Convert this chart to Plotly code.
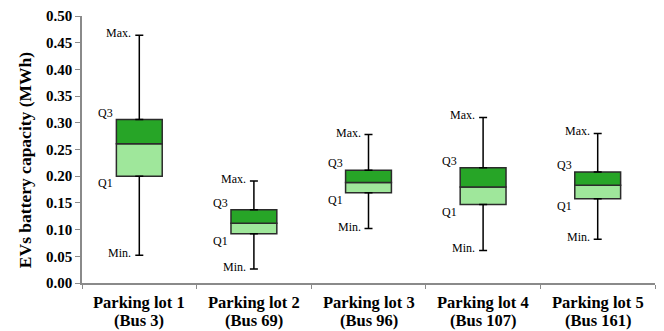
import plotly.graph_objects as go

# Battery capacity statistics per parking lot (MWh)
lots = ["Parking lot 1", "Parking lot 2", "Parking lot 3", "Parking lot 4", "Parking lot 5"]
buses = ["(Bus 3)", "(Bus 69)", "(Bus 96)", "(Bus 107)", "(Bus 161)"]
v_min = [0.052, 0.026, 0.102, 0.061, 0.082]
v_q1 = [0.200, 0.092, 0.169, 0.147, 0.158]
v_med = [0.261, 0.112, 0.188, 0.180, 0.183]
v_q3 = [0.306, 0.137, 0.211, 0.216, 0.208]
v_max = [0.464, 0.191, 0.278, 0.310, 0.280]
y_ticks = [0.00, 0.05, 0.10, 0.15, 0.20, 0.25, 0.30, 0.35, 0.40, 0.45, 0.50]

SERIF = "Liberation Serif, Times New Roman, serif"
LIGHT = "#9fe79b"
DARK = "#27a527"
EDGE = "#2b2b2b"
AXIS = "#8a8a8a"
BOX_W = 0.4

fig = go.Figure()

# lower half of box: Q1 -> median
fig.add_trace(go.Bar(
    x=lots, y=[m - q for m, q in zip(v_med, v_q1)], base=v_q1, width=BOX_W,
    marker=dict(color=LIGHT, line=dict(color=EDGE, width=1.5)),
    showlegend=False, hoverinfo="skip",
))
# upper half of box: median -> Q3
fig.add_trace(go.Bar(
    x=lots, y=[q - m for q, m in zip(v_q3, v_med)], base=v_med, width=BOX_W,
    marker=dict(color=DARK, line=dict(color=EDGE, width=1.5)),
    showlegend=False, hoverinfo="skip",
))

# upper whiskers (Q3 -> max)
fig.add_trace(go.Scatter(
    x=lots, y=v_q3, mode="markers",
    marker=dict(size=1, color="rgba(0,0,0,0)"),
    error_y=dict(type="data", symmetric=False,
                 array=[mx - q for mx, q in zip(v_max, v_q3)],
                 arrayminus=[0] * len(lots),
                 color="black", thickness=1.5, width=4),
    showlegend=False, hoverinfo="skip",
))
# lower whiskers (min -> Q1)
fig.add_trace(go.Scatter(
    x=lots, y=v_q1, mode="markers",
    marker=dict(size=1, color="rgba(0,0,0,0)"),
    error_y=dict(type="data", symmetric=False,
                 array=[0] * len(lots),
                 arrayminus=[q - mn for q, mn in zip(v_q1, v_min)],
                 color="black", thickness=1.5, width=4),
    showlegend=False, hoverinfo="skip",
))

# statistic labels beside each box
label_font = dict(family=SERIF, size=12, color="black")
for i, lot in enumerate(lots):
    for txt, val, xs, ys in (("Max.", v_max[i], -6, 2),
                             ("Q3", v_q3[i], -24, 7),
                             ("Q1", v_q1[i], -24, -7),
                             ("Min.", v_min[i], -6, 2)):
        fig.add_annotation(x=lot, y=val, text=txt, showarrow=False,
                           xanchor="right", yanchor="middle",
                           xshift=xs, yshift=ys, font=label_font)

# two-line category labels under the axis
cat_font = dict(family=SERIF, size=16.5, color="black", weight="bold")
for lot, bus in zip(lots, buses):
    fig.add_annotation(x=lot, y=0, yref="paper", text=lot, showarrow=False,
                       xanchor="center", yanchor="middle", yshift=-19,
                       font=cat_font)
    fig.add_annotation(x=lot, y=0, yref="paper", text=bus, showarrow=False,
                       xanchor="center", yanchor="middle", yshift=-37,
                       font=cat_font)

# y-axis title
fig.add_annotation(x=0, xref="paper", y=0.46, yref="paper",
                   text="EVs battery capacity (MWh)", textangle=-90,
                   showarrow=False, xanchor="center", yanchor="middle",
                   xshift=-57,
                   font=dict(family=SERIF, size=17.5, color="black", weight="bold"))

fig.update_layout(
    width=664, height=331,
    margin=dict(l=82, r=9, t=16, b=48),
    paper_bgcolor="white", plot_bgcolor="white",
    barmode="overlay",
    font=dict(family=SERIF, color="black"),
)
fig.update_xaxes(
    type="category", tickson="boundaries", ticks="outside", ticklen=4,
    tickcolor=AXIS, showline=True, linecolor=AXIS, linewidth=1.5,
    showgrid=False, showticklabels=False,
)
fig.update_yaxes(
    range=[0, 0.5], tickvals=y_ticks, tickformat=".2f",
    ticks="outside", ticklen=5, tickcolor=AXIS,
    showline=True, linecolor=AXIS, linewidth=1.5, showgrid=False,
    zeroline=False,
    tickfont=dict(family=SERIF, size=15, weight="bold"),
)

fig.write_html("out.html")
